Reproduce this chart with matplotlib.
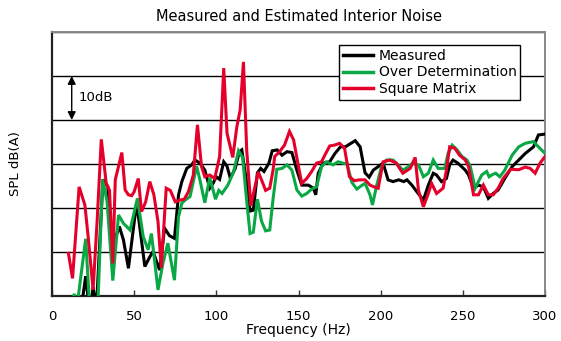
import matplotlib
matplotlib.use("Agg")
import matplotlib.pyplot as plt
import numpy as np

# ---- data (frequency in Hz, level in dB, relative scale) ----
meas_f = [17, 20.5, 23, 25, 27, 31, 34, 35.5, 37.5, 41, 43.5, 46.5, 51.5, 56.5, 59.5, 61.5, 65.5,
          68.5, 71.5, 74.5, 77, 79, 82, 85, 87, 90, 93, 96, 98, 100, 102, 104.5, 106.5, 108.5,
          111.5, 114, 115.5, 118.5, 120.5, 122.5, 125, 127, 129, 132, 134, 137, 140, 143, 146,
          149, 152, 156, 159, 160.5, 162, 165, 169, 172, 175.5, 178.5, 181, 184.5, 187.5, 190.5,
          193, 195.5, 198.5, 201.5, 204.5, 207.5, 211, 214, 216, 219, 222, 226, 229, 232, 234,
          237, 240, 242, 244, 247, 251.5, 253.5, 256.5, 259.5, 262.5, 265.5, 268.5, 271.5,
          275.5, 280, 284, 288, 293, 296, 300]
meas_db = [-5, 4.5, -4, 2, -3, 26.5, 24.8, 15, 12, 15.8, 12.7, 6.3, 21.2, 6.7, 8.9, 10.1, 5.9,
           15.4, 13.7, 13.1, 23, 26, 29, 29.8, 30.9, 30.2, 28.6, 24.5, 25.6, 27.1, 26.5, 30.5,
           29.5, 26.8, 29, 32.8, 33.2, 25.6, 19.3, 19.5, 28, 29, 28.3, 30.2, 33, 33.2, 32, 32.8,
           32.6, 28.6, 25.2, 25.2, 24.5, 23, 27.9, 30.2, 30.5, 32.3, 33.9, 33.9, 34.5, 35.3, 33.9,
           28, 27, 28.6, 29.4, 30.2, 26.4, 26, 26.4, 26, 26.4, 25.2, 23.7, 21.8, 25.2, 27.9, 27.5,
           26, 26.7, 29.8, 30.9, 30.2, 28.6, 27.5, 24.5, 25.2, 24.8, 22.2, 23.3, 24.1, 26.7,
           29.4, 30.9, 32.4, 33.9, 36.6, 36.8]

over_f = [12, 13.5, 15, 20.5, 23, 25.5, 28, 30.8, 33.5, 37, 40.5, 43.5, 47.5, 52, 55.5, 58.5,
          60.5, 64.5, 67.5, 70.5, 74.5, 77, 79, 81, 84, 86, 88, 90, 93, 96, 99.5, 101.5, 103.5,
          107, 110.5, 113.5, 116, 118.5, 120.5, 122.5, 125, 127.5, 130, 132.5, 134.5, 136.8,
          140, 143, 146, 149, 152, 155, 158, 161, 164, 167, 171, 174, 177, 179.5, 182.5, 185.5,
          188, 190.5, 193.5, 195, 197.5, 200.5, 203.5, 207.5, 210.5, 213.5, 216.5, 219.5, 223,
          226, 229, 232, 235, 239, 241, 243.5, 246.5, 249.5, 252.5, 254.5, 257.5, 261.5, 264.5,
          266, 268, 270, 272.5, 275.5, 280, 284, 288, 293, 296, 300]
over_db = [-2, 0.5, -3, 13, -3, -3, -1, 26.5, 21.5, 3.5, 18.4, 16.5, 15, 22.2, 13.5, 10.5,
           14.2, 1.4, 7.4, 12, 3.6, 18, 21.1, 21.8, 22.6, 26, 29.5, 26.4, 21.2, 26.9, 22, 24,
           23.3, 25.2, 28.2, 33, 31.5, 21.5, 14.2, 14.5, 22, 17, 14.8, 15, 22, 28.8, 29, 29.8,
           28.6, 24.1, 22.7, 23.3, 24.3, 24.8, 29.4, 30.5, 29.8, 30.5, 30.2, 30, 25.8, 24.3, 25,
           25.6, 23, 20.7, 25, 29.4, 30.9, 30.9, 29.8, 28.6, 29.3, 30.2, 29.8, 27.1, 27.9, 30.9,
           29, 29, 32.4, 34.3, 33.2, 31.7, 30.9, 29.5, 24.5, 27.5, 28.3, 27.1, 27.6, 27.9, 27.1,
           28.6, 32, 33.9, 34.7, 35.1, 33.9, 32.4]

sq_f = [10, 12.5, 16.5, 20, 22, 25, 27.5, 30, 33, 35, 37, 38.5, 42.5, 44.5, 46.5, 48.5, 50,
        52.5, 54.5, 57, 59.5, 62, 64.5, 66.5, 69.5, 72, 75, 78, 80.5, 83, 86, 88.5, 91, 93, 96,
        99, 102, 104.5, 106.5, 110, 112.5, 114.5, 116.5, 118.5, 121, 123, 125.5, 127.5, 130,
        132.5, 134.5, 135.5, 138.5, 141.5, 144.5, 147, 150, 152, 155, 158, 161, 164, 166, 169,
        172, 175, 178, 181, 184, 187, 190.5, 193.5, 196, 198.5, 201.5, 205.5, 209.5, 213.5, 218,
        221, 223, 226, 229, 231, 234, 238, 240, 242, 245, 248, 251.5, 253.5, 256.5, 259.5,
        262.5, 265.5, 268.5, 271.5, 274.5, 279, 284, 288, 291, 294, 297, 300]
sq_db = [9.7, 4, 24.8, 20.7, 13.5, 1.4, 17.3, 35.6, 25.6, 24, 7.4, 26.4, 32.6, 24.1, 23, 22.8,
         23.7, 26.7, 19.2, 21.4, 26, 23, 16.9, 6.4, 24.5, 24, 21.4, 21.8, 22, 23.7, 27.5, 38.9,
         29.4, 27.1, 27.5, 26.7, 31.7, 51.8, 37, 31.5, 38.5, 42.3, 53.2, 33, 20.5, 24, 28.2,
         26.4, 24, 24.5, 28.6, 31.7, 32.8, 34.3, 37.4, 35.5, 29.4, 25.6, 26.7, 28.3, 30.2, 30.5,
         32, 34.1, 34.3, 34.7, 33.6, 27.1, 26.2, 26.4, 26.4, 25.2, 24.8, 24.5, 30.5, 30.9, 30.2,
         27.9, 29, 31.5, 24, 20.3, 23.3, 25.6, 23.3, 24.5, 28.6, 33.9, 33.6, 32, 30.9, 29.4, 23,
         23, 25.2, 23, 23, 24.5, 26.7, 28.8, 28.7, 29.3, 29, 27.9, 30.2, 31.7]

series_names = ["Measured", "Over Determination", "Square Matrix"]
series_colors = ["#000000", "#0aa844", "#e4002b"]
x_ticks = [0, 50, 100, 150, 200, 250, 300]

FONT = "DejaVu Sans"
plt.rcParams["font.family"] = [FONT]

fig = plt.figure(figsize=(5.61, 3.41), dpi=100)
ax = fig.add_axes([52 / 561, 1 - 296 / 341, (545 - 52) / 561, (296 - 32) / 341])

for f, d, name, c in zip([meas_f, over_f, sq_f], [meas_db, over_db, sq_db], series_names, series_colors):
    ax.plot(f, d, color=c, lw=2.2, label=name, solid_joinstyle="miter", zorder=3)

ax.set_xlim(0, 300)
ax.set_ylim(0, 60)
ax.set_xticks(x_ticks)
ax.set_xticklabels([str(t) for t in x_ticks], fontsize=9.5)
ax.set_yticks(np.arange(0, 61, 10))
ax.set_yticklabels([])
ax.tick_params(axis="y", length=0)
ax.tick_params(axis="x", direction="in", length=4, width=1, color="#333333", pad=10)
ax.yaxis.grid(True, color="black", lw=1)
ax.set_axisbelow(True)

for side in ["left", "bottom"]:
    ax.spines[side].set_color("#222222")
    ax.spines[side].set_linewidth(1.6)
for side in ["top", "right"]:
    ax.spines[side].set_color("#888888")
    ax.spines[side].set_linewidth(1.4)

ax.set_xlabel("Frequency (Hz)", fontsize=10, labelpad=0)
ax.set_ylabel("SPL dB(A)", fontsize=9.5, labelpad=18)
ax.set_title("Measured and Estimated Interior Noise", fontsize=10.5, pad=8)

leg = ax.legend(loc="upper right", bbox_to_anchor=(0.95, 0.95), fontsize=10, frameon=True,
                fancybox=False, edgecolor="black", framealpha=1, handlelength=2.2,
                borderpad=0.25, labelspacing=0.2, handletextpad=0.4, borderaxespad=0)
leg.get_frame().set_linewidth(1)
for ln in leg.get_lines():
    ln.set_linewidth(2.5)

# 10 dB scale arrow
ax.annotate("", xy=(12, 40), xytext=(12, 50),
            arrowprops=dict(arrowstyle="<|-|>", color="black", lw=1, mutation_scale=12,
                            shrinkA=0, shrinkB=0))
ax.text(16, 45, "10dB", fontsize=9.5, va="center", ha="left")

fig.savefig("out.png", dpi=100)
